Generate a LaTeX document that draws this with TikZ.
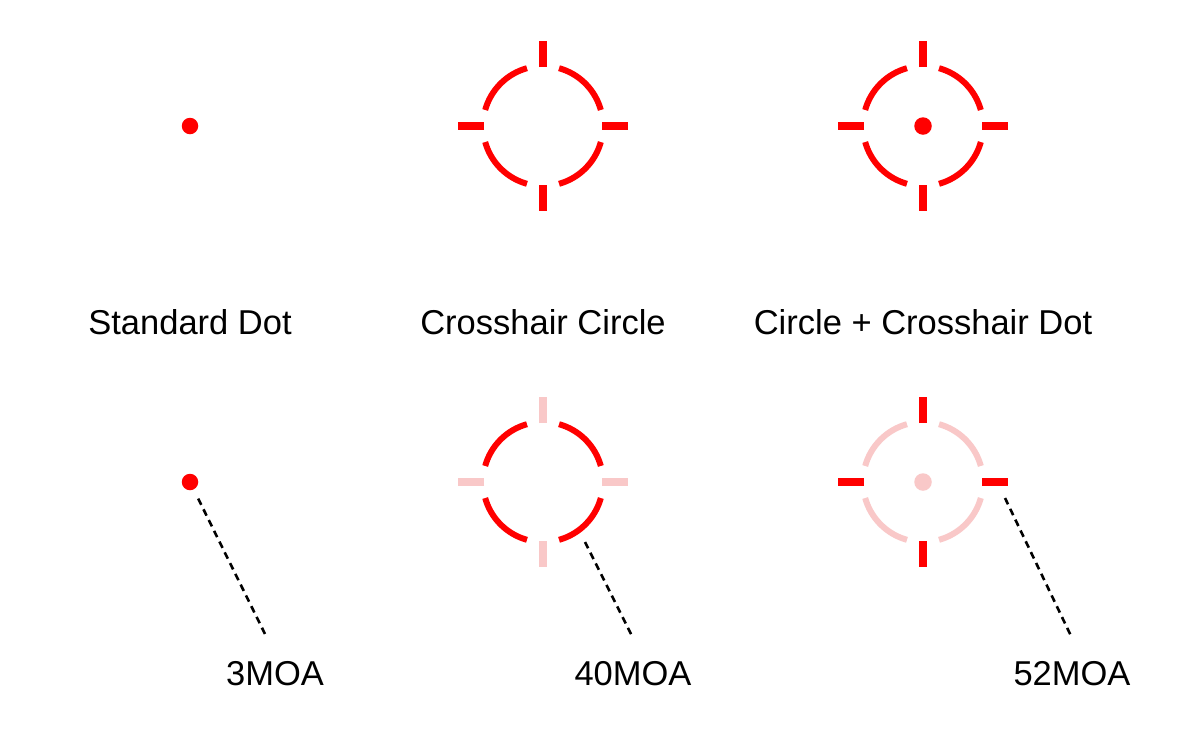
\documentclass[tikz,border=0pt]{standalone}
\usepackage{fontspec}
\setmainfont{Liberation Sans}
\usepackage{xcolor}
\usepackage{tikz}
\usetikzlibrary{calc,positioning}

\definecolor{hotred}{HTML}{FF0000}
\definecolor{palered}{HTML}{F9C8C8}

\begin{document}
\begin{tikzpicture}[x=1pt,y=-1pt,
    ring/.style={line width=6pt},
    bar/.style={line width=7.2pt},
    dotmark/.style={circle, inner sep=0pt, minimum size=#1},
    lead/.style={black, line width=2.6pt, dash pattern=on 7pt off 5pt},
    lbl/.style={anchor=base, font=\fontsize{34.5}{40}\selectfont}]
  \useasboundingbox (0,0) rectangle (1200,732);
  \fill[white] (0,0) rectangle (1200,732);
  % reticle centres
  \coordinate (ccTop) at (543,126);
  \coordinate (cdTop) at (923,126);
  \coordinate (ccBot) at (543,482);
  \coordinate (cdBot) at (923,482);
  % top row
  \node[dotmark=16.5pt, fill=hotred] (sdTop) at (190,126) {};
  \foreach \a in {0,90,180,270} {
    \draw[ring, hotred] ($(ccTop)+(\a+15.5:60)$) arc[start angle=\a+15.5, end angle=\a+74.5, radius=60];
    \draw[bar, hotred] ($(ccTop)+(\a:59)$) -- ($(ccTop)+(\a:85)$);
    \draw[ring, hotred] ($(cdTop)+(\a+15.5:60)$) arc[start angle=\a+15.5, end angle=\a+74.5, radius=60];
    \draw[bar, hotred] ($(cdTop)+(\a:59)$) -- ($(cdTop)+(\a:85)$);
  }
  \node[dotmark=17.5pt, fill=hotred] (cdDotTop) at (cdTop) {};
  \node[lbl] (sdName) at (190,334) {Standard Dot};
  \node[lbl] (ccName) at (543,334) {Crosshair Circle};
  \node[lbl] (cdName) at (923,334) {Circle + Crosshair Dot};
  % bottom row: lit part in red, rest pale
  \node[dotmark=16.5pt, fill=hotred] (sdBot) at (190,482) {};
  \foreach \a in {0,90,180,270} {
    \draw[ring, hotred] ($(ccBot)+(\a+15.5:60)$) arc[start angle=\a+15.5, end angle=\a+74.5, radius=60];
    \draw[bar, palered] ($(ccBot)+(\a:59)$) -- ($(ccBot)+(\a:85)$);
    \draw[ring, palered] ($(cdBot)+(\a+15.5:60)$) arc[start angle=\a+15.5, end angle=\a+74.5, radius=60];
    \draw[bar, hotred] ($(cdBot)+(\a:59)$) -- ($(cdBot)+(\a:85)$);
  }
  \node[dotmark=17.5pt, fill=palered] (cdDotBot) at (cdBot) {};
  % leader lines
  \coordinate (sdEnd) at (267,638);
  \coordinate (ccStart) at (585,542);
  \coordinate (ccEnd) at (633,638);
  \coordinate (cdStart) at (1005,498);
  \coordinate (cdEnd) at (1072,638);
  \draw[lead, shorten <=10pt] (sdBot) -- (sdEnd);
  \draw[lead] (ccStart) -- (ccEnd);
  \draw[lead] (cdStart) -- (cdEnd);
  \node[lbl] (sdSize) at (275,685) {3MOA};
  \node[lbl] (ccSize) at (633,685) {40MOA};
  \node[lbl] (cdSize) at (1072,685) {52MOA};
\end{tikzpicture}
\end{document}
